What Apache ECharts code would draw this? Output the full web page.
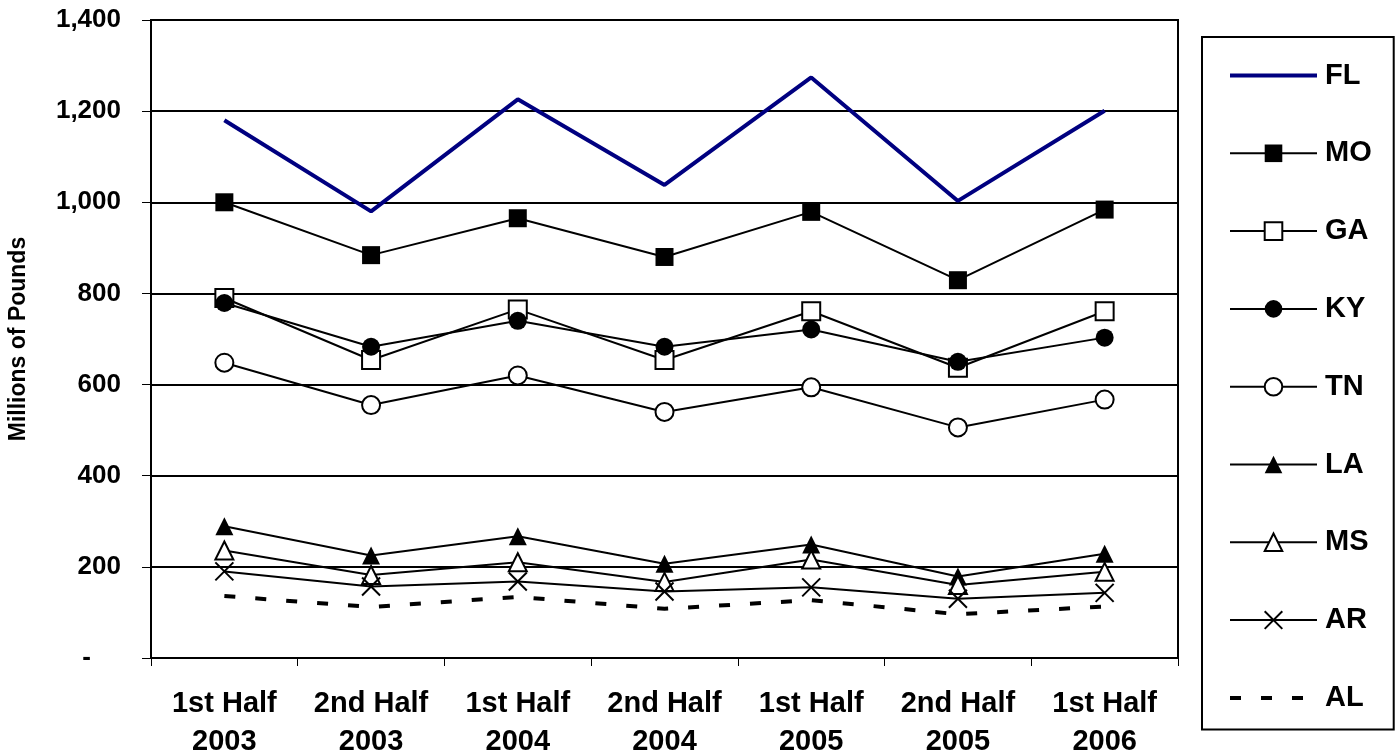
<!DOCTYPE html>
<html>
<head>
<meta charset="utf-8">
<script src="https://cdn.jsdelivr.net/npm/echarts@6/dist/echarts.min.js"></script>
<style>html,body{margin:0;padding:0;background:#fff;}#c{width:1399px;height:750px;}</style>
</head>
<body>
<div id="c"></div>
<script>
var categories = ['1st Half\n2003', '2nd Half\n2003', '1st Half\n2004', '2nd Half\n2004', '1st Half\n2005', '2nd Half\n2005', '1st Half\n2006'];
var FL = [1180, 980, 1226, 1038, 1274, 1003, 1201];
var MO = [1000, 884, 965, 880, 979, 829, 984];
var GA = [790, 654, 765, 654, 761, 637, 761];
var KY = [779, 683, 740, 683, 721, 650, 703];
var TN = [648, 555, 620, 540, 594, 506, 567];
var LA = [289, 225, 267, 207, 249, 179, 229];
var MS = [236, 182, 210, 167, 216, 160, 189];
var AR = [190, 157, 168, 146, 155, 130, 143];
var AL = [136, 112, 134, 108, 127, 96, 113];
var yTicks = [0, 200, 400, 600, 800, 1000, 1200, 1400];

var FONT = 'Arial, "Liberation Sans", sans-serif';
var xPath = 'path://M0,0 L10,10 M10,0 L0,10';

function mk(name, data, symbol, fill) {
  return {
    name: name, type: 'line', data: data,
    symbol: symbol, symbolSize: 18, showAllSymbol: true,
    lineStyle: { color: '#000', width: 2 },
    itemStyle: { color: fill, borderColor: '#000', borderWidth: (fill === '#fff' || symbol === xPath) ? 2 : 0 },
    emphasis: { disabled: true },
    animation: false
  };
}

var series = [
  { name: 'FL', type: 'line', data: FL, symbol: 'none', lineStyle: { color: '#000080', width: 4 }, itemStyle: { color: 'rgba(0,0,0,0)', borderWidth: 0 }, emphasis: { disabled: true }, animation: false },
  mk('MO', MO, 'rect', '#000'),
  mk('GA', GA, 'rect', '#fff'),
  mk('KY', KY, 'circle', '#000'),
  mk('TN', TN, 'circle', '#fff'),
  mk('LA', LA, 'triangle', '#000'),
  mk('MS', MS, 'triangle', '#fff'),
  mk('AR', AR, xPath, '#000'),
  { name: 'AL', type: 'line', data: AL, symbol: 'none', lineStyle: { color: '#000', width: 4, type: [11, 20], cap: 'butt' }, itemStyle: { color: 'rgba(0,0,0,0)', borderWidth: 0 }, emphasis: { disabled: true }, animation: false }
];

var chart = echarts.init(document.getElementById('c'), null, { renderer: 'canvas' });
chart.setOption({
  backgroundColor: '#fff',
  animation: false,
  grid: { left: 151, top: 20, right: 221, bottom: 92, show: true, borderColor: '#000', borderWidth: 2, containLabel: false, outerBoundsMode: 'none' },
  legend: {
    orient: 'vertical', left: 1202, top: 37,
    padding: [24, 22, 17, 26],
    borderColor: '#000', borderWidth: 2,
    itemWidth: 87, itemHeight: 22, itemGap: 48.8,
    lineStyle: { width: 'inherit' },
    textStyle: { fontFamily: FONT, fontWeight: 'bold', fontSize: 29, color: '#000', padding: [0, 0, 0, 3] },
    data: ['FL', 'MO', 'GA', 'KY', 'TN', 'LA', 'MS', 'AR', 'AL']
  },
  xAxis: {
    type: 'category', data: categories, boundaryGap: true,
    axisLine: { lineStyle: { color: '#000', width: 2 } },
    axisTick: { show: true, length: 8, lineStyle: { color: '#000', width: 1 } },
    axisLabel: { fontFamily: FONT, fontWeight: 'bold', fontSize: 29, color: '#000', lineHeight: 38, margin: 27, interval: 0 }
  },
  yAxis: {
    type: 'value', min: yTicks[0], max: yTicks[yTicks.length - 1], interval: 200,
    name: 'Millions of Pounds', nameLocation: 'middle', nameRotate: 90, nameGap: 121,
    nameTextStyle: { fontFamily: FONT, fontWeight: 'bold', fontSize: 23, color: '#000' },
    axisLine: { show: true, lineStyle: { color: '#000', width: 2 } },
    axisTick: { show: true, length: 9, lineStyle: { color: '#000', width: 1 } },
    splitLine: { show: true, lineStyle: { color: '#000', width: 2 } },
    axisLabel: {
      fontFamily: FONT, fontWeight: 'bold', fontSize: 26, color: '#000', margin: 30,
      formatter: function (v) { return v === 0 ? '{d|-}' : v.toLocaleString('en-US'); },
      rich: { d: { fontFamily: FONT, fontWeight: 'bold', fontSize: 26, color: '#000', padding: [0, 30, 0, 0] } }
    }
  },
  series: series
});
</script>
</body>
</html>
